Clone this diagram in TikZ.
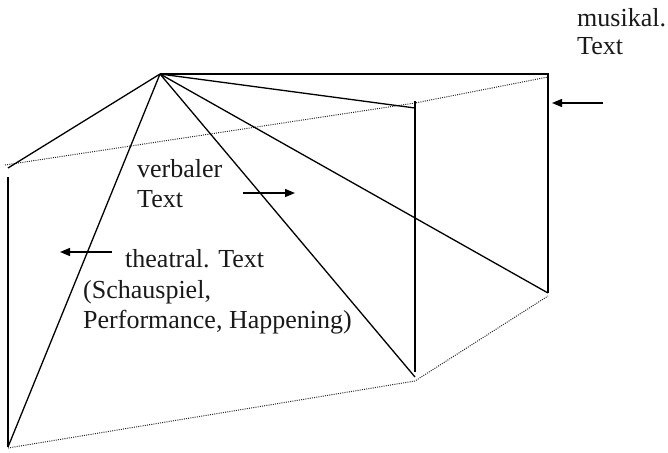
\documentclass[tikz,border=0pt]{standalone}
\usepackage{fontspec}
\setmainfont{Liberation Serif}
\usetikzlibrary{arrows.meta}
\begin{document}
\begin{tikzpicture}[x=1pt,y=-1pt,
  edge/.style={line width=1.3pt, black},
  hidden/.style={line width=1pt, dash pattern=on 1pt off 1.2pt, black!85},
  pointer/.style={line width=1.3pt, -{Triangle[length=10pt,width=8pt]}},
  caption/.style={font=\fontsize{26}{30}\selectfont, inner sep=0pt, anchor=base west, text=black!90}]
\useasboundingbox (0,0) rectangle (668,452);

% corners of the prism
\coordinate (apex) at (160,74);
\coordinate (topR) at (548,74);
\coordinate (botR) at (548,293);
\coordinate (midTd) at (415,108);
\coordinate (midT) at (415,101);
\coordinate (midB) at (415,372);
\coordinate (midBd) at (415,377);
\coordinate (leftTd) at (8,168);
\coordinate (leftT) at (8,177);
\coordinate (leftB) at (8,447);

% hidden (dotted) edges
\coordinate (dA) at (5,165);
\coordinate (dB) at (415,103);
\coordinate (dC) at (548,77);
\coordinate (dD) at (8,448);
\coordinate (dE) at (415,381);
\coordinate (dF) at (548,296);
\draw[hidden] (dA) -- (dB) -- (dC);
\draw[hidden] (dD) -- (dE) -- (dF);

% visible edges
\draw[edge] (apex) -- (topR) -- (botR);
\draw[edge] (midT) -- (midB);
\draw[edge] (leftT) -- (leftB);
\draw[edge] (apex) -- (leftTd);
\draw[edge] (apex) -- (leftB);
\draw[edge] (apex) -- (midBd);
\draw[edge] (apex) -- (botR);
\draw[edge] (apex) -- (midTd);

% labels
\node[caption] (mus1) at (577,27) {musikal.};
\node[caption] (mus2) at (577,55) {Text};
\node[caption] (verb1) at (137,177) {verbaler};
\node[caption] (verb2) at (137,207) {Text};
\node[caption] (the1) at (125,267) {theatral. Text};
\node[caption] (the2) at (83,298) {(Schauspiel,};
\node[caption] (the3) at (83,328) {Performance, Happening)};

% arrows
\coordinate (mA) at (603,103);
\coordinate (mB) at (552,103);
\coordinate (vA) at (243,193);
\coordinate (vB) at (295,193);
\coordinate (tA) at (112,252);
\coordinate (tB) at (60,252);
\draw[pointer] (mA) -- (mB);
\draw[pointer] (vA) -- (vB);
\draw[pointer] (tA) -- (tB);
\end{tikzpicture}
\end{document}
